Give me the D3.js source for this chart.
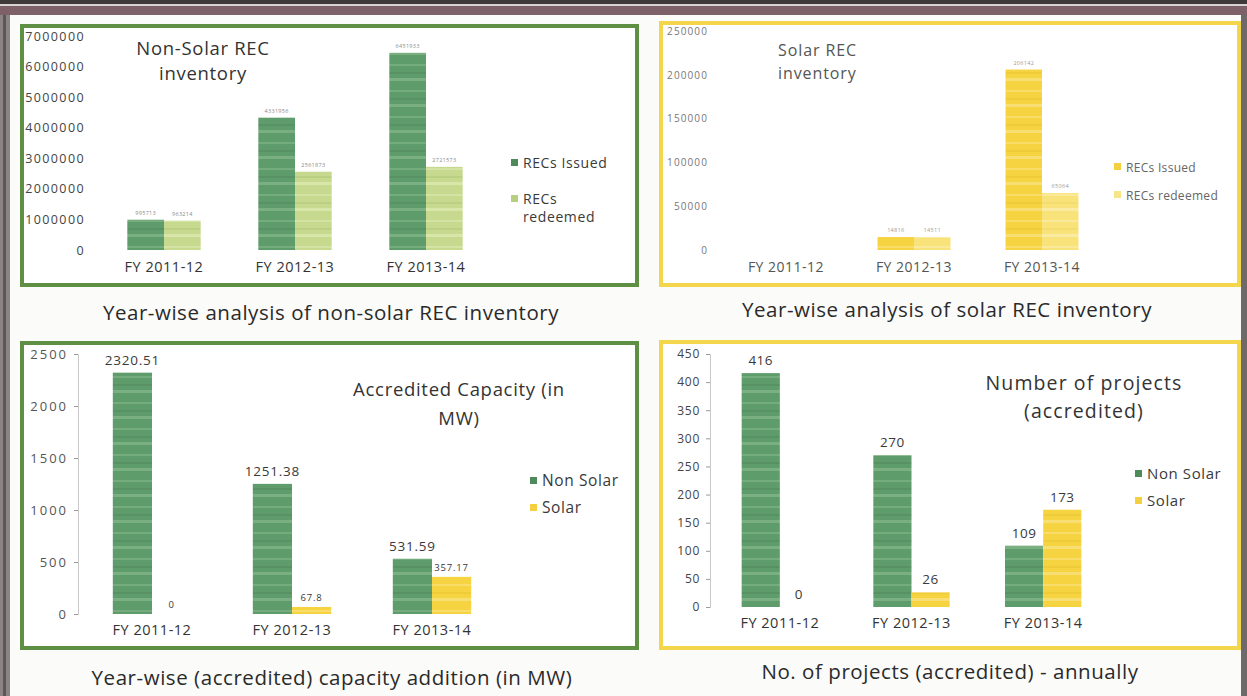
<!DOCTYPE html>
<html>
<head>
<meta charset="utf-8">
<script src="https://cdn.jsdelivr.net/npm/d3@7/dist/d3.min.js"></script>
<style>
  html, body { margin: 0; padding: 0; background: #fbfbf9; }
  svg { display: block; font-family: "Open Sans", Lato, sans-serif; }
</style>
</head>
<body>
<svg id="chart" width="1247" height="696"></svg>
<script>
// ---- data ----
const years = ["FY 2011-12", "FY 2012-13", "FY 2013-14"];

const nonSolarIssued   = [990000, 4330000, 6450000];
const nonSolarRedeemed = [960000, 2560000, 2720000];
const nonSolarRecTicks = [0, 1000000, 2000000, 3000000, 4000000, 5000000, 6000000, 7000000];
const nonSolarRecLabels = ["995713", "963214", "4331956", "2561873", "6451933", "2721573"];

const solarIssued   = [0, 14800, 206000];
const solarRedeemed = [0, 14500, 65000];
const solarRecTicks = [0, 50000, 100000, 150000, 200000, 250000];
const solarRecLabels = ["", "", "14816", "14511", "206142", "65064"];

const capacityNonSolar = [2320.51, 1251.38, 531.59];
const capacitySolar    = [0, 67.8, 357.17];
const capacityTicks    = [0, 500, 1000, 1500, 2000, 2500];

const projectsNonSolar = [416, 270, 109];
const projectsSolar    = [0, 26, 173];
const projectsTicks    = [0, 50, 100, 150, 200, 250, 300, 350, 400, 450];

const FONT = "'Open Sans', Lato, sans-serif";
const svg = d3.select("#chart");
const defs = svg.append("defs");

// banded fills give the bars their printed, striped look
function bandPattern(id, base, light, dark) {
  const p = defs.append("pattern").attr("id", id)
    .attr("patternUnits", "userSpaceOnUse").attr("width", 40).attr("height", 26);
  p.append("rect").attr("width", 40).attr("height", 26).attr("fill", base);
  p.append("rect").attr("y", 0).attr("width", 40).attr("height", 3).attr("fill", light).attr("opacity", 0.7);
  p.append("rect").attr("y", 12).attr("width", 40).attr("height", 2).attr("fill", light).attr("opacity", 0.55);
  p.append("rect").attr("y", 20).attr("width", 40).attr("height", 2).attr("fill", dark).attr("opacity", 0.35);
  return `url(#${id})`;
}
const fillGreen     = bandPattern("pGreen", "#5f9c6c", "#86b98a", "#4a7e55");
const fillLightGrn  = bandPattern("pLightGreen", "#c6d98f", "#e0ebb6", "#a9c070");
const fillYellow    = bandPattern("pYellow", "#f6d340", "#fae48a", "#e8bf2a");
const fillPaleYel   = bandPattern("pPaleYellow", "#f8e27a", "#fcefb4", "#efd15a");

// ---- page edges (scanned sheet border) ----
svg.append("rect").attr("x", 0).attr("y", 0).attr("width", 1247).attr("height", 4).attr("fill", "#3f3a3a");
svg.append("rect").attr("x", 0).attr("y", 4).attr("width", 1247).attr("height", 2).attr("fill", "#d8d2d2");
svg.append("rect").attr("x", 0).attr("y", 6).attr("width", 1247).attr("height", 9).attr("fill", "#7d6068");
svg.append("rect").attr("x", 0).attr("y", 15).attr("width", 10).attr("height", 681).attr("fill", "#8a8484");
svg.append("rect").attr("x", 3).attr("y", 15).attr("width", 3).attr("height", 681).attr("fill", "#5c5656");
svg.append("rect").attr("x", 1241).attr("y", 15).attr("width", 6).attr("height", 681).attr("fill", "#6e6a6a");

// ---- panel frames ----
const frames = [
  { x: 22,  y: 26,  w: 615, h: 259, c: "#5e8f42" },
  { x: 661, y: 23,  w: 578, h: 262, c: "#f3d64c" },
  { x: 22,  y: 343, w: 615, h: 305, c: "#5e8f42" },
  { x: 661, y: 342, w: 578, h: 306, c: "#f3d64c" }
];
frames.forEach(f => {
  svg.append("rect").attr("x", f.x).attr("y", f.y).attr("width", f.w).attr("height", f.h)
    .attr("fill", "#ffffff").attr("stroke", f.c).attr("stroke-width", 4);
});

// ---- captions ----
const captions = [
  { t: "Year-wise analysis of non-solar REC inventory", x: 331, y: 320 },
  { t: "Year-wise analysis of solar REC inventory", x: 947, y: 317 },
  { t: "Year-wise (accredited) capacity addition (in MW)", x: 332, y: 685 },
  { t: "No. of projects (accredited) - annually", x: 950, y: 679 }
];
captions.forEach(c => {
  svg.append("text").attr("x", c.x).attr("y", c.y).attr("text-anchor", "middle")
    .attr("font-size", 20.5).attr("letter-spacing", 0.55).attr("fill", "#2a2a2a").text(c.t);
});

// multi-line text as one element with stacked tspans
function multiline(g, lines, x, y, lead, anchor) {
  const t = g.append("text").attr("x", x).attr("y", y).attr("text-anchor", anchor);
  lines.forEach((line, i) => {
    t.append("tspan").attr("x", x).attr("dy", i === 0 ? 0 : lead).text(line);
  });
  return t;
}

// ---- generic grouped bar panel ----
function drawPanel(o) {
  const g = svg.append("g");
  const x = d3.scaleBand().domain(years).range(o.xRange).paddingInner(o.pad).paddingOuter(o.pad / 2);
  const sub = d3.scaleBand().domain([0, 1]).range([0, x.bandwidth()]).padding(0);
  const y = d3.scaleLinear().domain([0, o.ticks[o.ticks.length - 1]]).range([o.y0, o.y1]);

  // value axis
  const ya = g.append("g").attr("transform", `translate(${o.axisX},0)`)
    .call(d3.axisLeft(y).tickValues(o.ticks).tickFormat(d3.format("d"))
      .tickSize(o.tickSize).tickPadding(o.tickPad));
  ya.select(".domain").attr("stroke", o.axisLine ? "#c8c8c8" : "none");
  ya.selectAll(".tick line").attr("stroke", "#9a9a9a");
  ya.selectAll("text").attr("font-size", o.tickFont).attr("fill", o.tickColor)
    .attr("letter-spacing", o.tickSpacing).attr("font-family", FONT);

  // category axis
  const xa = g.append("g").attr("transform", `translate(0,${o.y0})`)
    .call(d3.axisBottom(x).tickSize(0).tickPadding(o.catPad));
  xa.select(".domain").remove();
  xa.selectAll("text").attr("font-size", o.catFont).attr("fill", o.catColor)
    .attr("letter-spacing", 0.5).attr("font-family", FONT);

  const series = [o.a, o.b];
  series.forEach((vals, si) => {
    g.selectAll(null).data(vals).join("rect")
      .attr("x", (d, i) => x(years[i]) + sub(si))
      .attr("y", d => y(d))
      .attr("width", sub.bandwidth())
      .attr("height", d => o.y0 - y(d))
      .attr("fill", o.fills[si]);
  });

  // value labels
  series.forEach((vals, si) => {
    g.selectAll(null).data(vals).join("text")
      .attr("x", (d, i) => x(years[i]) + sub(si) + sub.bandwidth() / 2)
      .attr("y", d => y(d) - o.labelGap[si])
      .attr("text-anchor", "middle")
      .attr("font-size", o.labelFont[si]).attr("letter-spacing", o.labelSpacing)
      .attr("fill", o.labelColor)
      .text((d, i) => o.labelText ? o.labelText[i * 2 + si] : String(d));
  });

  // title
  multiline(g, o.title, o.titleX, o.titleY, o.titleLead, o.titleAnchor)
    .attr("font-size", o.titleFont).attr("letter-spacing", o.titleSpacing).attr("fill", o.titleColor);

  // legend
  o.legend.forEach((lg, i) => {
    const ly = o.legY + i * o.legStep;
    g.append("rect").attr("x", o.legX).attr("y", ly - 4).attr("width", 7).attr("height", 7)
      .attr("fill", o.legColors[i]);
    multiline(g, lg, o.legX + 12, ly + 5, 18, "start")
      .attr("font-size", o.legFont).attr("letter-spacing", o.legSpacing).attr("fill", o.legTextColor);
  });
}

drawPanel({
  a: nonSolarIssued, b: nonSolarRedeemed, ticks: nonSolarRecTicks, labelText: nonSolarRecLabels,
  xRange: [98.5, 491.5], pad: 0.44, y0: 250, y1: 36,
  axisX: 88, tickSize: 0, tickPad: 3, axisLine: false, tickFont: 12.5, tickSpacing: 1.4, tickColor: "#444",
  catPad: 12, catFont: 14.5, catColor: "#333",
  fills: [fillGreen, fillLightGrn],
  labelGap: [5, 5], labelFont: [5.5, 5.5], labelSpacing: 0.3, labelColor: "#8a8a8a",
  title: ["Non-Solar REC", "inventory"], titleX: 203, titleY: 55, titleLead: 25, titleAnchor: "middle",
  titleFont: 18.5, titleSpacing: 0.7, titleColor: "#333",
  legend: [["RECs Issued"], ["RECs", "redeemed"]], legX: 511, legY: 163, legStep: 36,
  legColors: ["#4e8a5c", "#b7cf82"], legFont: 14, legSpacing: 0.6, legTextColor: "#3a3a3a"
});

drawPanel({
  a: solarIssued, b: solarRedeemed, ticks: solarRecTicks, labelText: solarRecLabels,
  xRange: [722, 1106], pad: 0.43, y0: 250, y1: 31,
  axisX: 711, tickSize: 0, tickPad: 3, axisLine: false, tickFont: 10, tickSpacing: 1.1, tickColor: "#777",
  catPad: 12, catFont: 14, catColor: "#555",
  fills: [fillYellow, fillPaleYel],
  labelGap: [5, 5], labelFont: [5.5, 5.5], labelSpacing: 0.3, labelColor: "#9a9a9a",
  title: ["Solar REC", "inventory"], titleX: 778, titleY: 56, titleLead: 23, titleAnchor: "start",
  titleFont: 16, titleSpacing: 0.9, titleColor: "#555",
  legend: [["RECs Issued"], ["RECs redeemed"]], legX: 1114, legY: 167, legStep: 28,
  legColors: ["#f4d040", "#f8e58a"], legFont: 12, legSpacing: 0.3, legTextColor: "#666"
});

drawPanel({
  a: capacityNonSolar, b: capacitySolar, ticks: capacityTicks, labelText: null,
  xRange: [82, 502], pad: 0.44, y0: 614, y1: 354,
  axisX: 78, tickSize: 4, tickPad: 6, axisLine: true, tickFont: 13, tickSpacing: 2, tickColor: "#555",
  catPad: 11, catFont: 14.5, catColor: "#333",
  fills: [fillGreen, fillYellow],
  labelGap: [8, 6], labelFont: [13.5, 9.5], labelSpacing: 0.8, labelColor: "#3a3a3a",
  title: ["Accredited Capacity (in", "MW)"], titleX: 459, titleY: 396, titleLead: 29, titleAnchor: "middle",
  titleFont: 18.5, titleSpacing: 0.7, titleColor: "#333",
  legend: [["Non Solar"], ["Solar"]], legX: 530, legY: 481, legStep: 27,
  legColors: ["#4e8a5c", "#f4d040"], legFont: 15.5, legSpacing: 0.6, legTextColor: "#3a3a3a"
});

drawPanel({
  a: projectsNonSolar, b: projectsSolar, ticks: projectsTicks, labelText: null,
  xRange: [714, 1109], pad: 0.42, y0: 607, y1: 354,
  axisX: 710, tickSize: 4, tickPad: 6, axisLine: true, tickFont: 12, tickSpacing: 0.7, tickColor: "#444",
  catPad: 11, catFont: 14.5, catColor: "#333",
  fills: [fillGreen, fillYellow],
  labelGap: [8, 8], labelFont: [13.5, 13.5], labelSpacing: 0.5, labelColor: "#3a3a3a",
  title: ["Number of projects", "(accredited)"], titleX: 1084, titleY: 390, titleLead: 28, titleAnchor: "middle",
  titleFont: 19.5, titleSpacing: 1.1, titleColor: "#333",
  legend: [["Non Solar"], ["Solar"]], legX: 1135, legY: 474, legStep: 27,
  legColors: ["#4e8a5c", "#f4d040"], legFont: 15, legSpacing: 0.6, legTextColor: "#3a3a3a"
});
</script>
</body>
</html>
